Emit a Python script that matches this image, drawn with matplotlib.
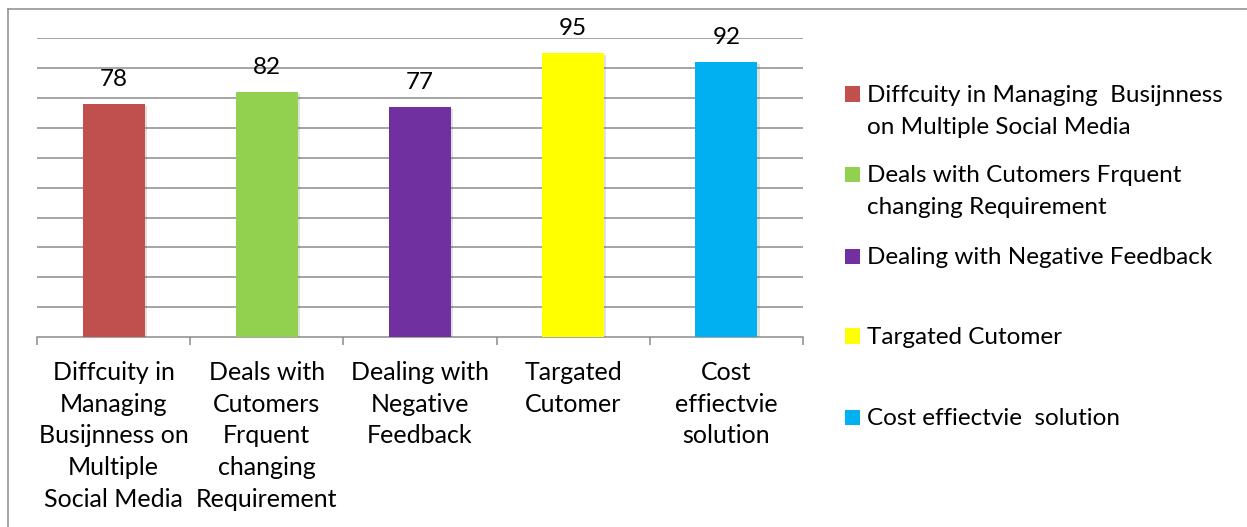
import matplotlib.pyplot as plt
from matplotlib.lines import Line2D
from matplotlib.patches import Rectangle
import matplotlib.patheffects as pe

plt.rcParams['font.family'] = ['Lato', 'DejaVu Sans']

# chart data
categories = [
    'Diffcuity in\nManaging\nBusijnness on\nMultiple\nSocial Media',
    'Deals with\nCutomers\nFrquent\nchanging\nRequirement',
    'Dealing with\nNegative\nFeedback',
    'Targated\nCutomer',
    'Cost\neffiectvie\nsolution',
]
legend_labels = [
    'Diffcuity in Managing  Busijnness\non Multiple Social Media',
    'Deals with Cutomers Frquent\nchanging Requirement',
    'Dealing with Negative Feedback',
    'Targated Cutomer',
    'Cost effiectvie  solution',
]
values = [78, 82, 77, 95, 92]
colors = ['#C0504D', '#92D050', '#7030A0', '#FFFF00', '#00B0F0']

W, H = 1247, 527
fig = plt.figure(figsize=(W / 100, H / 100), dpi=100)


def fx(px):
    return px / W


def fy(py):
    return 1 - py / H


ax = fig.add_axes([fx(37), fy(337), fx(803) - fx(37), fy(38.3) - fy(337)])

x = list(range(len(values)))
bars = ax.bar(x, values, width=0.405, color=colors, zorder=3)
for b in bars:
    b.set_path_effects([pe.SimplePatchShadow(offset=(1.5, -1.5), alpha=0.18, shadow_rgbFace='#555555'),
                        pe.Normal()])

for xi, v in zip(x, values):
    ax.annotate(str(v), (xi, v), xytext=(0, 17.5), textcoords='offset points',
                ha='center', va='center', fontsize=17.5, color='black')

ax.set_xlim(-0.5, len(values) - 0.5)
ax.set_ylim(0, 100)
ax.set_yticks(range(10, 101, 10))
ax.set_yticklabels([])
ax.tick_params(axis='y', length=0)
ax.grid(axis='y', color='#8c8c8c', linewidth=1.1, zorder=0)
ax.set_axisbelow(True)

ax.set_xticks(x)
ax.set_xticklabels(categories, fontsize=18, linespacing=1.47, color='black')
ax.tick_params(axis='x', which='major', length=0, pad=17)
ax.set_xticks([i - 0.5 for i in range(len(values) + 1)], minor=True)
ax.tick_params(axis='x', which='minor', length=6, width=1.1, color='#8c8c8c', direction='out')

for s in ['top', 'right', 'left']:
    ax.spines[s].set_visible(False)
ax.spines['bottom'].set_color('#8c8c8c')
ax.spines['bottom'].set_linewidth(1.1)

# legend drawn by hand so entries are evenly spaced
leg_y = [94, 174, 256, 336, 417]
for lab, c, yc in zip(legend_labels, colors, leg_y):
    fig.add_artist(Rectangle((fx(845), fy(yc + 7.5)), fx(15), fy(yc - 7.5) - fy(yc + 7.5),
                             transform=fig.transFigure, facecolor=c, edgecolor='none'))
    for i, line in enumerate(lab.split('\n')):
        fig.text(fx(867), fy(yc + 8 + 32 * i), line, fontsize=17.5, va='baseline',
                 ha='left', color='black')

# chart frame
fig.add_artist(Line2D([fx(8), 1], [fy(9), fy(9)], color='#8c8c8c', linewidth=1.1))
fig.add_artist(Line2D([fx(8), fx(8)], [fy(9), 0], color='#8c8c8c', linewidth=1.1))

fig.savefig('out.png', dpi=100)
